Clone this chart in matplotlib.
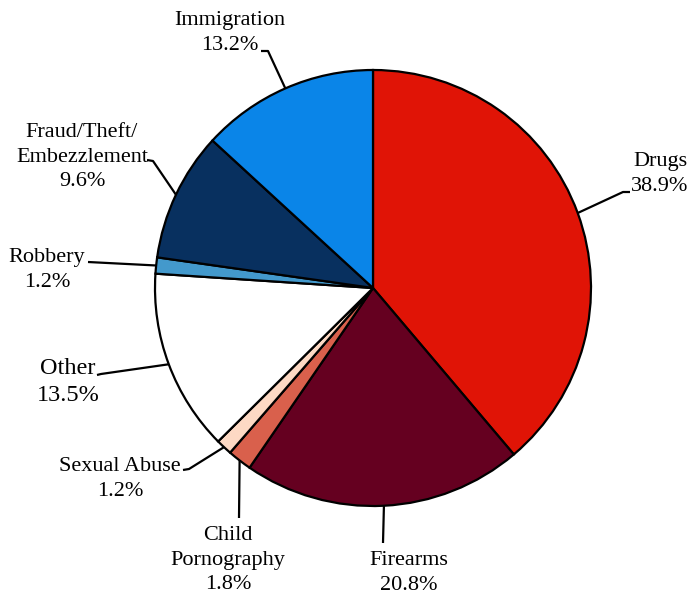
import numpy as np
import matplotlib
matplotlib.use("Agg")
import matplotlib.pyplot as plt

categories = ["Drugs", "Firearms", "Child\nPornography", "Sexual Abuse", "Other",
              "Robbery", "Fraud/Theft/\nEmbezzlement", "Immigration"]
values = [38.9, 20.8, 1.8, 1.2, 13.5, 1.2, 9.6, 13.2]
pct_labels = ["38.9%", "20.8%", "1.8%", "1.2%", "13.5%", "1.2%", "9.6%", "13.2%"]
colors = ["#E01406", "#650020", "#D9604C", "#FDD9C4", "#FFFFFF",
          "#4399CC", "#08305F", "#0A85E8"]

W, H = 692, 595
fig = plt.figure(figsize=(W / 100, H / 100), dpi=100)
ax = fig.add_axes([0, 0, 1, 1])
ax.set_xlim(0, W)
ax.set_ylim(0, H)
ax.set_aspect("equal")
ax.axis("off")

def P(px, py):
    return (px, H - py)

cx, cy = P(373, 288)
R = 218
wedges, _ = ax.pie(values, colors=colors, startangle=90, counterclock=False,
                   center=(cx, cy), radius=R,
                   wedgeprops=dict(edgecolor="black", linewidth=1.6))
ax.set_xlim(0, W)
ax.set_ylim(0, H)

family = ["Liberation Serif", "DejaVu Serif"]
font_sizes = [16, 16, 16, 16, 17.5, 16, 16, 16]

# label text centers (pixel coords) and leader polyline anchors (label side)
label_pos = [(660, 174), (409, 573), (228, 560), (120, 479), (68, 382),
             (47, 270), (82, 157), (230, 33)]
leader_start = [[(630, 192), (623, 192)],
                [(383, 543)],
                [(239, 518)],
                [(183, 470), (189, 469)],
                [(97, 375), (101, 374)],
                [(88, 262)],
                [(147, 160), (153, 161)],
                [(261, 51), (268, 51)]]

for i, w in enumerate(wedges):
    tx, ty = P(*label_pos[i])
    ax.text(tx, ty, categories[i] + "\n" + pct_labels[i], ha="center", va="center",
            linespacing=1.4, family=family, fontsize=font_sizes[i])
    mid = np.deg2rad((w.theta1 + w.theta2) / 2)
    ex, ey = cx + R * np.cos(mid), cy + R * np.sin(mid)
    pts = [P(*p) for p in leader_start[i]] + [(ex, ey)]
    xs, ys = zip(*pts)
    ax.plot(xs, ys, color="black", lw=1.6, solid_capstyle="butt", zorder=0.5)

fig.savefig("out.png", dpi=100)
